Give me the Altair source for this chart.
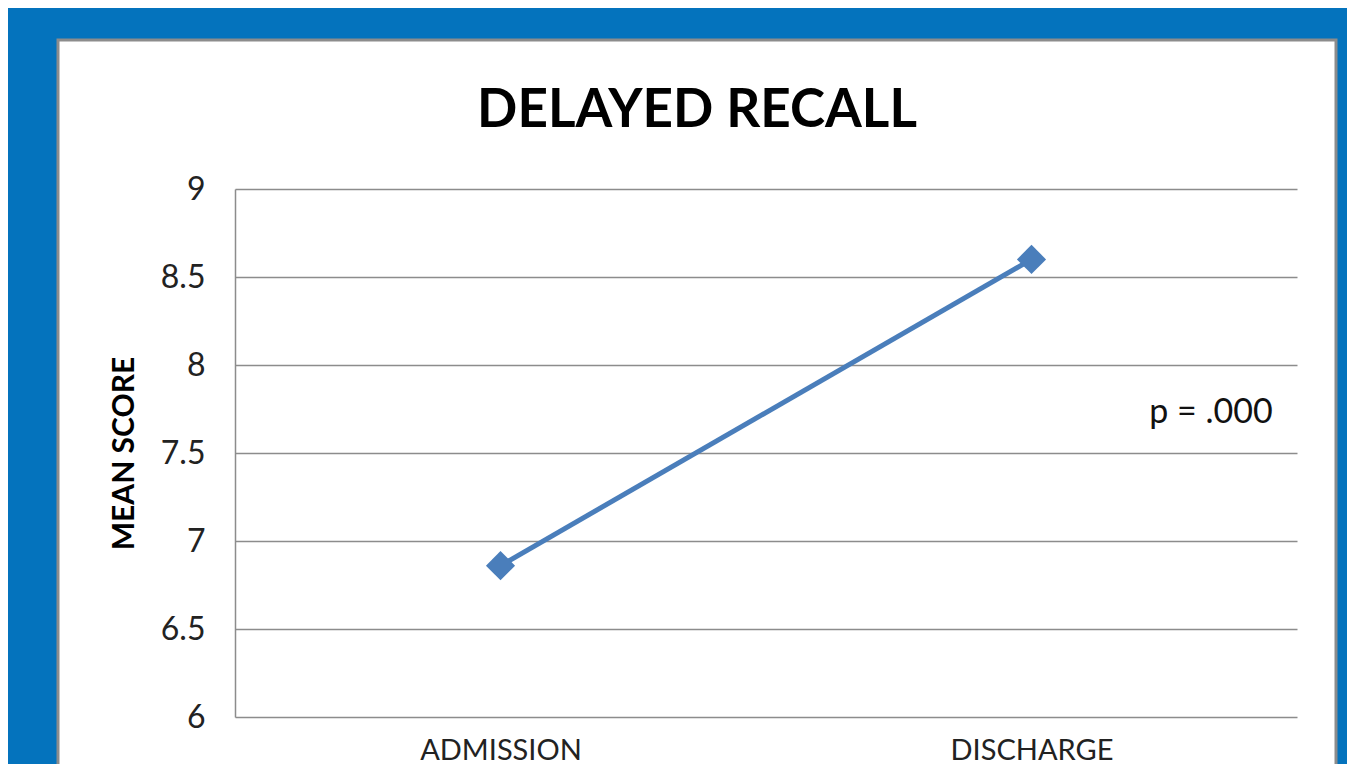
import altair as alt
import pandas as pd

# ---- data ----
stages = ["ADMISSION", "DISCHARGE"]
mean_scores = [6.86, 8.60]
y_ticks = [6, 6.5, 7, 7.5, 8, 8.5, 9]
title_text = "DELAYED RECALL"
y_title = "MEAN SCORE"
p_label = "p = .000"

df = pd.DataFrame({"stage": stages, "score": mean_scores})

BLUE_BG = "#0473BD"
LINE = "#4A7EBB"
GRID = "#8C8C8C"
FONT = "Lato"

W, H = 1062, 528

base = alt.Chart(df)
one = alt.datum.stage == stages[0]

# decorative frame around the white panel (drawn outside the plot area)
frame_top = base.mark_rect(color=BLUE_BG).encode(
    x=alt.value(-300), x2=alt.value(1300), y=alt.value(-300), y2=alt.value(-149)
).transform_filter(one)
frame_left = base.mark_rect(color=BLUE_BG).encode(
    x=alt.value(-300), x2=alt.value(-177), y=alt.value(-300), y2=alt.value(900)
).transform_filter(one)
frame_right = base.mark_rect(color=BLUE_BG).encode(
    x=alt.value(1101), x2=alt.value(1300), y=alt.value(-300), y2=alt.value(900)
).transform_filter(one)
panel_border = base.mark_rect(fill=None, stroke=GRID, strokeWidth=3).encode(
    x=alt.value(-177), x2=alt.value(1101), y=alt.value(-149), y2=alt.value(900)
).transform_filter(one)

x_enc = alt.X(
    "stage:N",
    sort=stages,
    scale=alt.Scale(type="point", padding=0.5),
    axis=alt.Axis(
        title=None, labelAngle=0, ticks=False, domain=False, grid=False,
        labelFontSize=29, labelFont=FONT, labelColor="#222222",
        labelPadding=19, labelBaseline="top",
    ),
)
y_enc = alt.Y(
    "score:Q",
    scale=alt.Scale(domain=[6, 9], nice=False, zero=False),
    axis=alt.Axis(
        values=y_ticks, format=".1~f", title=y_title,
        titleFont=FONT, titleFontSize=30, titleFontWeight="bold", titleColor="#000000",
        titleX=-111, titleY=H / 2, titleBaseline="middle", titleAngle=-90,
        labelFont=FONT, labelFontSize=32, labelColor="#222222", labelPadding=30,
        ticks=False, domain=True, domainColor=GRID, domainWidth=1.5,
        grid=True, gridColor=GRID, gridWidth=1.5,
    ),
)

line = base.mark_line(color=LINE, strokeWidth=5).encode(x=x_enc, y=y_enc)
points = base.mark_point(shape="diamond", filled=True, size=850, color=LINE, opacity=1).encode(
    x=x_enc, y=y_enc
)

title = base.mark_text(
    text=title_text, font=FONT, fontSize=53, fontWeight="bold", color="#000000",
    align="center", baseline="alphabetic",
).encode(x=alt.value(462), y=alt.value(-62)).transform_filter(one)

ptext = base.mark_text(
    text=p_label, font=FONT, fontSize=34, color="#111111",
    align="center", baseline="middle",
).encode(x=alt.value(976), y=alt.value(224)).transform_filter(one)

chart = (
    alt.layer(frame_top, frame_left, frame_right, panel_border, line, points, title, ptext)
    .properties(
        width=W, height=H,
        padding={"left": 227, "top": 181, "right": 50, "bottom": 47},
        autosize=alt.AutoSizeParams(type="none"),
        background="#FFFFFF",
    )
    .configure_view(stroke=None)
)

chart.save("out.html", embed_options={"renderer": "svg", "actions": False})
